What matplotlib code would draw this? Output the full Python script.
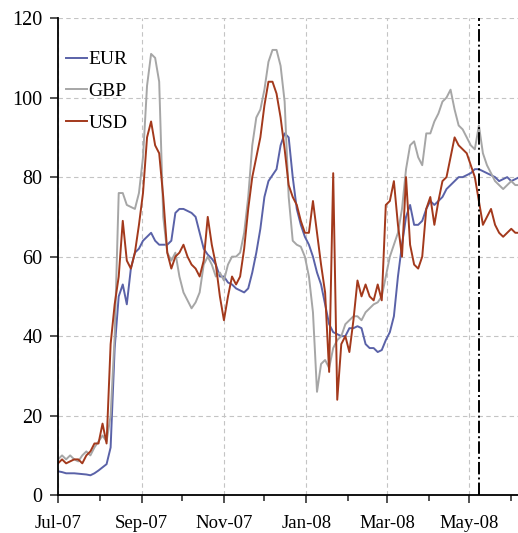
import pandas as pd
import matplotlib
matplotlib.use('Agg')
import matplotlib.pyplot as plt
import matplotlib.dates as mdates

plt.rcParams['font.family'] = ['Liberation Serif', 'DejaVu Serif']

# one observation every 3 days, Jul-07 .. Jun-08
datas = pd.date_range('2007-07-01', periods=115, freq='3D')

eur = [6, 5.8, 5.5, 5.5, 5.5, 5.4, 5.3, 5.2, 5.0, 5.5,
       6.2, 7, 7.8, 12, 37, 50, 53, 48, 57, 61,
       62, 64, 65, 66, 64, 63, 63, 63, 64, 71,
       72, 72, 71.5, 71, 70, 66, 62, 60.5, 59.5, 58,
       55, 55, 53.5, 53, 52, 51.5, 51, 52, 56, 61,
       67, 75, 79, 80.5, 82, 88, 91, 90, 80, 72,
       68, 65, 63, 60, 56, 53, 48, 43, 41, 40.5,
       40, 40, 42, 42, 42.5, 42, 38, 37, 37, 36,
       36.5, 39, 41, 45, 55, 63, 70, 73, 68, 68,
       69, 72, 74, 73, 74, 75, 77, 78, 79, 80,
       80, 80.5, 81, 82, 82, 81.5, 81, 80.5, 80, 79,
       79.5, 80, 79, 79.5, 80]

gbp = [9, 10, 9, 10, 9, 8.5, 10, 11, 10, 12,
       13.5, 15, 13.5, 20, 40, 76, 76, 73, 72.5, 72,
       76, 85, 103, 111, 110, 104, 70, 61, 59, 61,
       55, 51, 49, 47, 48.5, 51, 58, 60, 58, 55,
       56, 54, 58, 60, 60, 61, 66, 75, 88, 95,
       97, 102, 109, 112, 112, 108, 99, 75, 64, 63,
       62.5, 60, 55, 46, 26, 33, 34, 32, 37, 39,
       40, 43, 44, 45, 45, 44, 46, 47, 48, 48.5,
       50, 55, 60, 63, 66, 72, 82, 88, 89, 85,
       83, 91, 91, 94, 96, 99, 100, 102, 97, 93,
       92, 90, 88, 87, 93, 86, 83, 81, 79, 78,
       77, 78, 79, 78, 78]

usd = [8, 9, 8, 8.5, 9, 9, 8, 10, 11, 13,
       13, 18, 13, 38, 48, 55, 69, 59, 57, 61,
       68, 76, 90, 94, 88, 86, 75, 61, 57, 60,
       61, 63, 60, 58, 57, 55, 59, 70, 63, 58,
       50, 44, 50, 55, 53, 55, 62, 72, 80, 85,
       90, 98, 104, 104, 101, 95, 87, 78, 75, 73,
       69, 66, 66, 74, 66, 58, 51, 31, 81, 24,
       38, 40, 36, 44, 54, 50, 53, 50, 49, 53,
       49, 73, 74, 79, 68, 60, 80, 63, 58, 57,
       60, 72, 75, 68, 74, 79, 80, 85, 90, 88,
       87, 86, 83, 80, 74, 68, 70, 72, 68, 66,
       65, 66, 67, 66, 66]

marco = pd.Timestamp('2008-05-08')

fig = plt.figure(figsize=(5.18, 5.33), dpi=100)
ax = fig.add_axes([0.112, 0.071, 0.888, 0.895])

ax.plot(datas, eur, color='#5a62a8', lw=1.4, label='EUR')
ax.plot(datas, gbp, color='#a6a6a6', lw=1.4, label='GBP')
ax.plot(datas, usd, color='#a3391c', lw=1.4, label='USD')
ax.axvline(marco, color='black', lw=1.4, linestyle='-.')

ax.set_xlim(pd.Timestamp('2007-07-01'), pd.Timestamp('2008-06-06'))
ax.set_ylim(0, 120)
ax.set_yticks(range(0, 121, 20))
ax.xaxis.set_major_locator(mdates.MonthLocator(bymonth=[1, 3, 5, 7, 9, 11]))
ax.xaxis.set_minor_locator(mdates.MonthLocator())
ax.xaxis.set_major_formatter(mdates.DateFormatter('%b-%y'))

ax.grid(True, which='major', color='#c4c4c4', linestyle=(0, (4, 3)), lw=0.8)
ax.set_axisbelow(True)
for lado in ['top', 'right']:
    ax.spines[lado].set_visible(False)
for lado in ['left', 'bottom']:
    ax.spines[lado].set_linewidth(1.3)
ax.tick_params(axis='both', which='both', labelsize=13.5, length=6, width=1.2, color='#333333')
ax.tick_params(axis='x', which='minor', length=4)
ax.tick_params(axis='x', pad=8)
ax.tick_params(axis='y', labelsize=14.5, pad=5)

ax.legend(loc='upper left', bbox_to_anchor=(-0.012, 0.96), frameon=False, fontsize=14,
          handlelength=1.1, handletextpad=0.05, labelspacing=0.72, borderaxespad=0.3)

plt.savefig('out.png', dpi=100)
